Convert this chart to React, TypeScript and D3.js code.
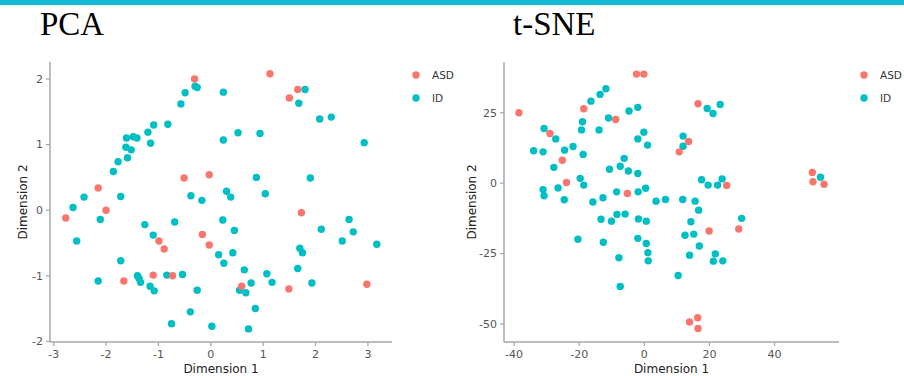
import React, { useEffect } from "react";
import * as d3 from "d3";

const groups = ["ASD", "ID"];
const groupColors = ["#f8766d", "#00bfc4"];

// PCA: [dim1, dim2]
const pcaASD = [
    [-2.77, -0.12], [-2.15, 0.34], [-2.0, 0.0], [-0.31, 2.0], [-0.51, 0.49],
    [-0.03, 0.54], [1.13, 2.08], [1.66, 1.84], [1.5, 1.71], [1.73, -0.04],
    [-0.99, -0.47], [-0.89, -0.59], [-1.66, -1.08], [-1.1, -0.99], [-0.73, -1.0],
    [-0.16, -0.37], [-0.03, -0.53], [0.59, -1.16], [1.49, -1.2], [2.98, -1.13],
];
const pcaID = [
    [-2.63, 0.04], [-2.42, 0.2], [-2.11, -0.14], [-1.86, 0.59], [-1.77, 0.74],
    [-1.72, 0.21], [-1.61, 1.1], [-1.62, 0.96], [-1.59, 0.8], [-1.52, 0.92],
    [-1.48, 1.12], [-1.41, 1.1], [-1.2, 1.19], [-1.15, 1.02], [-1.09, 1.3],
    [-0.82, 1.31], [-0.57, 1.62], [-0.49, 1.79], [-0.3, 1.89], [-0.26, 1.87],
    [0.24, 1.8], [0.24, 1.07], [-0.38, 0.22], [-0.17, 0.15], [0.3, 0.29],
    [0.38, 0.2], [-0.69, -0.18], [0.23, -0.15], [1.8, 1.84], [1.68, 1.63],
    [2.08, 1.39], [2.3, 1.42], [0.52, 1.18], [0.94, 1.17], [2.93, 1.03],
    [0.87, 0.5], [1.9, 0.49], [1.04, 0.25], [2.64, -0.14], [-1.26, -0.22],
    [-1.1, -0.38], [-2.56, -0.47], [-1.72, -0.77], [-2.15, -1.08], [-1.4, -1.0],
    [-1.37, -1.04], [-1.34, -1.1], [-0.84, -0.99], [-0.54, -0.98], [-1.16, -1.16],
    [-1.08, -1.23], [-0.26, -1.22], [-0.39, -1.55], [-0.75, -1.73], [0.02, -1.77],
    [0.15, -0.68], [0.25, -0.81], [0.45, -0.31], [0.42, -0.65], [0.64, -0.91],
    [0.55, -1.22], [0.67, -1.26], [0.77, -1.11], [1.07, -0.97], [1.17, -1.1],
    [0.85, -1.5], [0.72, -1.81], [2.11, -0.29], [2.72, -0.33], [2.51, -0.47],
    [3.17, -0.52], [1.7, -0.58], [1.75, -0.65], [1.66, -0.89], [1.93, -1.11],
];

// t-SNE: [dim1, dim2]
const tsneASD = [
    [-38.5, 25.0], [-29.0, 17.6], [-25.2, 8.1], [-23.9, 0.2], [-18.6, 26.4],
    [-8.8, 22.6], [-2.4, 38.7], [-0.15, 38.7], [-5.2, -3.7], [10.7, 11.1],
    [16.5, 28.2], [13.6, 14.8], [25.3, -0.8], [51.6, 3.8], [51.8, 0.5],
    [55.2, -0.4], [19.9, -17.0], [29.0, -16.3], [16.4, -47.8], [13.9, -49.3],
    [16.5, -51.6],
];
const tsneID = [
    [-30.8, 19.4], [-27.2, 15.7], [-34.0, 11.5], [-31.1, 11.1], [-24.5, 11.7],
    [-21.9, 13.0], [-27.8, 5.6], [-26.5, -1.7], [-31.1, -2.3], [-30.8, -4.5],
    [-24.6, -5.9], [-18.8, 10.2], [-19.3, 18.9], [-19.0, 21.8], [-16.4, 29.1],
    [-13.6, 31.5], [-11.8, 33.5], [-13.9, 18.9], [-11.0, 23.1], [-4.7, 25.6],
    [-2.0, 26.9], [-2.0, 15.7], [-0.15, 18.1], [1.0, 13.5], [-19.7, 1.7],
    [-18.6, -0.7], [-10.7, 4.9], [-7.4, 6.0], [-6.2, 8.8], [-4.9, 4.3],
    [-2.0, 3.4], [-8.5, -3.1], [-1.9, -3.1], [0.4, -1.8], [-15.8, -6.7],
    [-12.7, -5.2], [3.6, -6.4], [6.5, -5.8], [19.3, 26.5], [21.1, 24.7],
    [23.3, 27.9], [11.9, 16.7], [11.9, 13.1], [17.6, 1.2], [19.6, -0.7],
    [22.5, -0.7], [23.9, 1.5], [54.1, 2.1], [11.8, -5.8], [15.6, -6.4],
    [16.7, -9.6], [-13.3, -12.8], [-10.1, -13.5], [-8.4, -11.1], [-5.9, -11.0],
    [-1.8, -12.7], [0.6, -13.5], [-20.4, -19.9], [-12.6, -21.0], [-2.0, -19.6],
    [0.6, -21.4], [1.1, -24.7], [1.2, -27.6], [-7.8, -26.5], [-7.4, -36.7],
    [10.4, -32.8], [14.3, -13.7], [12.5, -18.5], [15.2, -18.1], [16.9, -22.3],
    [13.9, -25.6], [21.8, -25.1], [21.2, -27.7], [24.1, -27.6], [29.9, -12.5],
];

const pcaXTicks = [-3, -2, -1, 0, 1, 2, 3];
const pcaYTicks = [-2, -1, 0, 1, 2];
const tsneXTicks = [-40, -20, 0, 20, 40];
const tsneYTicks = [-50, -25, 0, 25];

const panels = [
    {
        title: "PCA",
        titleX: 40,
        asd: pcaASD,
        id: pcaID,
        xDomain: [-3.07, 3.46],
        yDomain: [-2.01, 2.26],
        xRange: [50, 392],
        yTitleX: 27,
        xTicks: pcaXTicks,
        yTicks: pcaYTicks,
        legendX: 416,
    },
    {
        title: "t-SNE",
        titleX: 513,
        asd: tsneASD,
        id: tsneID,
        xDomain: [-43.1, 59.8],
        yDomain: [-56.4, 43],
        xRange: [504, 839],
        yTitleX: 476,
        xTicks: tsneXTicks,
        yTicks: tsneYTicks,
        legendX: 864,
    },
];

const axisColor = "#a6a6a6";
const tickText = "#555555";
const sans = "'DejaVu Sans', Verdana, sans-serif";

const Panel = ({ p }: any) => {
    const x = d3.scaleLinear().domain(p.xDomain).range(p.xRange);
    const y = d3.scaleLinear().domain(p.yDomain).range([342, 62]);
    const [x0, x1] = p.xRange;
    const yMid = (342 + 62) / 2;

    return (
        <g>
            <text x={p.titleX} y={35} fontFamily="'Liberation Serif', 'Times New Roman', serif" fontSize={33} fill="#000">
                {p.title}
            </text>
            {/* axes */}
            <line x1={x0} x2={x0} y1={62} y2={342} stroke={axisColor} strokeWidth={1.5} />
            <line x1={x0} x2={x1} y1={342} y2={342} stroke={axisColor} strokeWidth={1.5} />
            {p.yTicks.map((t: number) => (
                <g key={"y" + t} transform={`translate(${x0},${y(t)})`}>
                    <line x1={-4} x2={0} stroke={axisColor} strokeWidth={1.2} />
                    <text x={-7} dy="0.35em" textAnchor="end" fontFamily={sans} fontSize={11} fill={tickText}>
                        {t}
                    </text>
                </g>
            ))}
            {p.xTicks.map((t: number) => (
                <g key={"x" + t} transform={`translate(${x(t)},342)`}>
                    <line y1={0} y2={4} stroke={axisColor} strokeWidth={1.2} />
                    <text y={16} textAnchor="middle" fontFamily={sans} fontSize={11} fill={tickText}>
                        {t}
                    </text>
                </g>
            ))}
            <text
                x={(x0 + x1) / 2}
                y={373}
                textAnchor="middle"
                fontFamily={sans}
                fontSize={12}
                fill="#222"
            >
                Dimension 1
            </text>
            <text
                transform={`translate(${p.yTitleX},${yMid}) rotate(-90)`}
                textAnchor="middle"
                fontFamily={sans}
                fontSize={12}
                fill="#222"
            >
                Dimension 2
            </text>
            {/* points */}
            {p.id.map((d: number[], i: number) => (
                <circle key={"i" + i} cx={x(d[0])} cy={y(d[1])} r={3.7} fill={groupColors[1]} />
            ))}
            {p.asd.map((d: number[], i: number) => (
                <circle key={"a" + i} cx={x(d[0])} cy={y(d[1])} r={3.7} fill={groupColors[0]} />
            ))}
            {/* legend */}
            {groups.map((g, i) => (
                <g key={g} transform={`translate(${p.legendX},${75 + i * 23})`}>
                    <circle r={3.7} fill={groupColors[i]} />
                    <text x={16} dy="0.35em" fontFamily={sans} fontSize={10.5} fill="#333">
                        {g}
                    </text>
                </g>
            ))}
        </g>
    );
};

export default function App() {
    useEffect(() => {
        document.body.style.margin = "0";
    }, []);

    return (
        <svg width={904} height={376} style={{ display: "block", background: "#fff" }}>
            <rect x={0} y={0} width={904} height={5} fill="#12bcd8" />
            {panels.map((p) => (
                <Panel key={p.title} p={p} />
            ))}
        </svg>
    );
}
